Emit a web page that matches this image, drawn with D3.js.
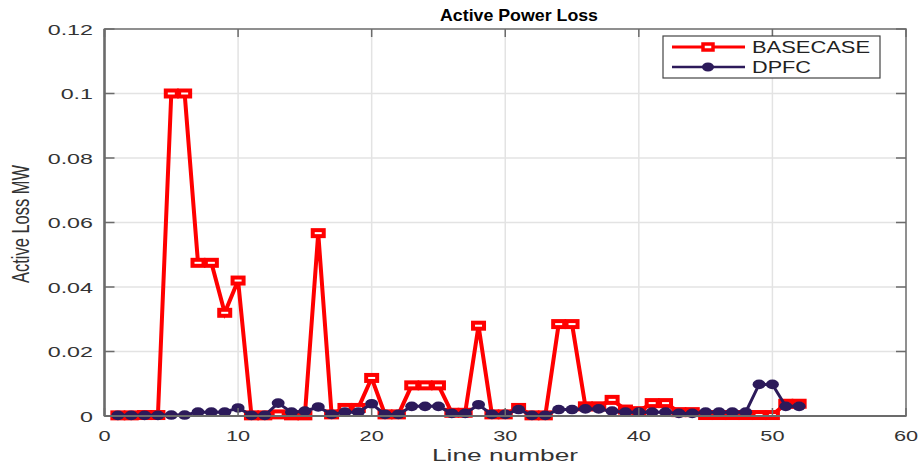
<!DOCTYPE html>
<html><head><meta charset="utf-8">
<script src="https://cdn.jsdelivr.net/npm/d3@7"></script>
<style>body{margin:0;background:#fff}svg{display:block}text{font-family:"Liberation Sans",Arial,sans-serif}</style>
</head><body><svg id="c" width="923" height="468"></svg>
<script>
const lineNumbers = [1,2,3,4,5,6,7,8,9,10,11,12,13,14,15,16,17,18,19,20,21,22,23,24,25,26,27,28,29,30,31,32,33,34,35,36,37,38,39,40,41,42,43,44,45,46,47,48,49,50,51,52];
const basecase = [0.0002,0.0002,0.0003,0.0003,0.1,0.1,0.0475,0.0475,0.032,0.042,
  0.0002,0.0002,0.0005,0.0002,0.0002,0.0567,0.0005,0.0025,0.0025,0.0118,
  0.0005,0.0005,0.0095,0.0095,0.0095,0.001,0.001,0.028,0.0005,0.0005,
  0.0025,0.0002,0.0002,0.0285,0.0285,0.003,0.003,0.005,0.002,0.0015,
  0.004,0.004,0.0012,0.0012,0.0003,0.0003,0.0003,0.0003,0.0003,0.0003,
  0.0038,0.0038];
const dpfc = [0.0002,0.0002,0.0002,0.0002,0.0003,0.0003,0.0012,0.0012,0.0012,0.0025,
  0.0002,0.0002,0.004,0.0012,0.0015,0.0028,0.0005,0.0012,0.0012,0.0038,
  0.0005,0.0005,0.003,0.003,0.003,0.0008,0.0008,0.0035,0.0005,0.0005,
  0.002,0.0002,0.0002,0.002,0.002,0.0022,0.0022,0.0015,0.0012,0.0012,
  0.0012,0.0012,0.0008,0.0008,0.0012,0.0012,0.0012,0.0012,0.0098,0.0098,
  0.003,0.003];
const xTicks = [0,10,20,30,40,50,60];
const yTicks = [0,0.02,0.04,0.06,0.08,0.1,0.12];
const yTickLabels = ["0","0.02","0.04","0.06","0.08","0.1","0.12"];
const seriesNames = ["BASECASE","DPFC"];
const colors = ["#ff0000","#2c1a5a"];

const svg = d3.select("#c");
const L=104.5, R=906, T=29, B=416;
const x = d3.scaleLinear().domain([0,60]).range([L,R]);
const y = d3.scaleLinear().domain([0,0.12]).range([B,T]);

function stretch(sel,k){sel.each(function(){const l=this.getComputedTextLength();d3.select(this).attr("textLength",l*k).attr("lengthAdjust","spacingAndGlyphs");});}
function fitTo(sel,w){sel.attr("textLength",w).attr("lengthAdjust","spacingAndGlyphs");}

// grid
const g = svg.append("g");
g.selectAll(".gx").data(xTicks.slice(1,-1)).join("line")
 .attr("x1",d=>x(d)).attr("x2",d=>x(d)).attr("y1",T).attr("y2",B)
 .attr("stroke","#e3e3e3").attr("stroke-width",1.5);
g.selectAll(".gy").data(yTicks.slice(1,-1)).join("line")
 .attr("y1",d=>y(d)).attr("y2",d=>y(d)).attr("x1",L).attr("x2",R)
 .attr("stroke","#e3e3e3").attr("stroke-width",1.5);

// data
const line = d3.line().x((d,i)=>x(lineNumbers[i])).y(d=>y(d));
svg.append("path").datum(basecase).attr("d",line).attr("fill","none")
 .attr("stroke",colors[0]).attr("stroke-width",4).attr("stroke-linejoin","miter");
svg.selectAll(".sq").data(basecase).join("rect")
 .attr("x",(d,i)=>x(lineNumbers[i])-5.5).attr("y",d=>y(d)-3)
 .attr("width",11).attr("height",6)
 .attr("fill","#fff").attr("stroke",colors[0]).attr("stroke-width",4);

svg.append("path").datum(dpfc).attr("d",line).attr("fill","none")
 .attr("stroke",colors[1]).attr("stroke-width",3);
svg.selectAll(".ci").data(dpfc).join("ellipse")
 .attr("cx",(d,i)=>x(lineNumbers[i])).attr("cy",d=>y(d))
 .attr("rx",6.5).attr("ry",4.8).attr("fill",colors[1]);

// axes box
const ax = svg.append("g").attr("stroke","#6b6b6b").attr("fill","none");
ax.append("rect").attr("x",L).attr("y",T).attr("width",R-L).attr("height",B-T).attr("stroke-width",1.5);
ax.append("line").attr("x1",L).attr("x2",L).attr("y1",T).attr("y2",B).attr("stroke-width",2.5);
ax.append("line").attr("x1",L).attr("x2",R).attr("y1",B).attr("y2",B).attr("stroke-width",2);
xTicks.forEach(t=>{
  ax.append("line").attr("x1",x(t)).attr("x2",x(t)).attr("y1",B).attr("y2",B-8).attr("stroke-width",1.5);
  ax.append("line").attr("x1",x(t)).attr("x2",x(t)).attr("y1",T).attr("y2",T+8).attr("stroke-width",1.5);
});
yTicks.forEach(t=>{
  ax.append("line").attr("x1",L).attr("x2",L+10).attr("y1",y(t)).attr("y2",y(t)).attr("stroke-width",1.5);
  ax.append("line").attr("x1",R).attr("x2",R-10).attr("y1",y(t)).attr("y2",y(t)).attr("stroke-width",1.5);
});

// tick labels
svg.selectAll(".xl").data(xTicks).join("text")
 .attr("x",d=>x(d)).attr("y",441).attr("text-anchor","middle")
 .attr("font-size",15).attr("fill","#333").text(d=>d).call(stretch,1.45);
svg.selectAll(".yl").data(yTicks).join("text")
 .attr("x",93).attr("y",d=>y(d)+5.5).attr("text-anchor","end")
 .attr("font-size",15).attr("fill","#333").text((d,i)=>yTickLabels[i]).call(stretch,1.55);

// titles
svg.append("text").attr("x",519).attr("y",21).attr("text-anchor","middle")
 .attr("font-size",17).attr("font-weight","bold").attr("fill","#000").text("Active Power Loss").call(fitTo,158);
svg.append("text").attr("x",505).attr("y",461).attr("text-anchor","middle")
 .attr("font-size",17).attr("fill","#333").text("Line number").call(fitTo,146);
svg.append("text").attr("transform","translate(29,224) scale(1.4,1) rotate(-90)")
 .attr("text-anchor","middle").attr("font-size",17).attr("fill","#333")
 .text("Active Loss MW").call(fitTo,118);

// legend
const lg = svg.append("g");
lg.append("rect").attr("x",663).attr("y",36).attr("width",217).attr("height",42)
 .attr("fill","#fff").attr("stroke","#444").attr("stroke-width",1.2);
[0,1].forEach(i=>{
  const yy = 47+i*20;
  lg.append("line").attr("x1",672).attr("x2",745).attr("y1",yy).attr("y2",yy)
   .attr("stroke",colors[i]).attr("stroke-width",i?2.5:3);
  if(i===0) lg.append("rect").attr("x",703).attr("y",yy-3).attr("width",10).attr("height",6)
   .attr("fill","#fff").attr("stroke",colors[0]).attr("stroke-width",3.5);
  else lg.append("ellipse").attr("cx",708).attr("cy",yy).attr("rx",6).attr("ry",4.5).attr("fill",colors[1]);
  lg.append("text").attr("x",752).attr("y",yy+6).attr("font-size",17).attr("fill","#222")
   .text(seriesNames[i]).call(fitTo,i?59:118);
});
</script></body></html>
